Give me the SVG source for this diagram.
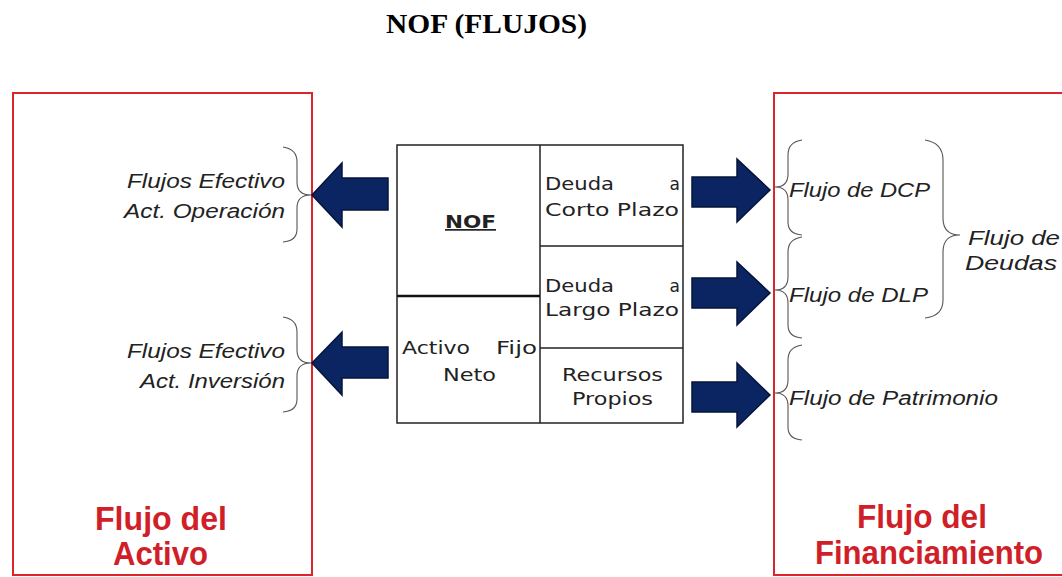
<svg xmlns="http://www.w3.org/2000/svg" width="1062" height="577" viewBox="0 0 1062 577">
<style>
.title{font-family:"Liberation Serif","Times New Roman",serif;font-weight:bold;font-size:27px;fill:#000}
.red{font-family:"Liberation Sans",Arial,sans-serif;font-weight:bold;font-size:33px;fill:#d01f28}
.ital{font-family:"Liberation Sans",Arial,sans-serif;font-style:italic;font-size:20px;fill:#222}
.cell{font-family:"DejaVu Sans",Verdana,sans-serif;font-size:17px;fill:#222}
.box{fill:none;stroke:#d9262c;stroke-width:2}
.brace{fill:none;stroke:#555;stroke-width:1.1}
.arrow{fill:#0b2462;stroke:#06143a;stroke-width:1.5;stroke-linejoin:miter}
.tbl{fill:none;stroke:#222;stroke-width:1.5}
</style>
<rect width="1062" height="577" fill="#fff"/>
<text class="title" x="386" y="33" textLength="201" lengthAdjust="spacingAndGlyphs">NOF (FLUJOS)</text>

<g id="activo">
<rect class="box" x="13" y="93" width="299" height="482"/>
<text class="red" x="95" y="530" textLength="132" lengthAdjust="spacingAndGlyphs">Flujo del</text>
<text class="red" x="113" y="565" textLength="95" lengthAdjust="spacingAndGlyphs">Activo</text>
</g>

<g id="financiamiento">
<rect class="box" x="774" y="93" width="300" height="482"/>
<text class="red" x="857" y="528" textLength="130" lengthAdjust="spacingAndGlyphs">Flujo del</text>
<text class="red" x="815" y="564" textLength="228" lengthAdjust="spacingAndGlyphs">Financiamiento</text>
</g>

<g id="tabla">
<rect class="tbl" x="397" y="145" width="286" height="278"/>
<line class="tbl" x1="540" y1="145" x2="540" y2="423"/>
<line x1="397" y1="296" x2="540" y2="296" stroke="#111" stroke-width="2.5"/>
<line class="tbl" x1="540" y1="246" x2="683" y2="246" stroke="#444"/>
<line class="tbl" x1="540" y1="348" x2="683" y2="348" stroke="#444"/>
<text class="cell" x="445" y="228" font-weight="bold" text-decoration="underline" textLength="51" lengthAdjust="spacingAndGlyphs">NOF</text>
<text class="cell" x="402" y="354" textLength="68" lengthAdjust="spacingAndGlyphs">Activo</text>
<text class="cell" x="496" y="354" textLength="41" lengthAdjust="spacingAndGlyphs">Fijo</text>
<text class="cell" x="443" y="381" textLength="53" lengthAdjust="spacingAndGlyphs">Neto</text>
<text class="cell" x="545" y="190" textLength="69" lengthAdjust="spacingAndGlyphs">Deuda</text>
<text class="cell" x="680" y="190" text-anchor="end">a</text>
<text class="cell" x="545" y="216" textLength="134" lengthAdjust="spacingAndGlyphs">Corto Plazo</text>
<text class="cell" x="545" y="292" textLength="69" lengthAdjust="spacingAndGlyphs">Deuda</text>
<text class="cell" x="680" y="292" text-anchor="end">a</text>
<text class="cell" x="545" y="316" textLength="134" lengthAdjust="spacingAndGlyphs">Largo Plazo</text>
<text class="cell" x="562" y="381" textLength="101" lengthAdjust="spacingAndGlyphs">Recursos</text>
<text class="cell" x="572" y="405" textLength="81" lengthAdjust="spacingAndGlyphs">Propios</text>
</g>

<g id="etiquetas-activo">
<text class="ital" x="127" y="188" textLength="158" lengthAdjust="spacingAndGlyphs">Flujos Efectivo</text>
<text class="ital" x="124" y="218" textLength="161" lengthAdjust="spacingAndGlyphs">Act. Operación</text>
<text class="ital" x="127" y="358" textLength="158" lengthAdjust="spacingAndGlyphs">Flujos Efectivo</text>
<text class="ital" x="140" y="388" textLength="145" lengthAdjust="spacingAndGlyphs">Act. Inversión</text>
</g>

<g id="etiquetas-financiamiento">
<text class="ital" x="789" y="197" textLength="141" lengthAdjust="spacingAndGlyphs">Flujo de DCP</text>
<text class="ital" x="789" y="302" textLength="139" lengthAdjust="spacingAndGlyphs">Flujo de DLP</text>
<text class="ital" x="789" y="405" textLength="209" lengthAdjust="spacingAndGlyphs">Flujo de Patrimonio</text>
<text class="ital" x="968" y="245" textLength="92" lengthAdjust="spacingAndGlyphs">Flujo de</text>
<text class="ital" x="965" y="270" textLength="92" lengthAdjust="spacingAndGlyphs">Deudas</text>
</g>

<g id="llaves">
<path class="brace" d="M283,147 Q297,149 297,162 L297,182 Q297,195 311,195 Q297,195 297,208 L297,229 Q297,241 283,242"/>
<path class="brace" d="M283,317 Q297,319 297,332 L297,350 Q297,363 311,363 Q297,363 297,376 L297,399 Q297,411 283,412"/>
<path class="brace" d="M802,140 Q788,142 788,155 L788,174 Q788,187 775,187 Q788,187 788,200 L788,222 Q788,234 802,235"/>
<path class="brace" d="M802,237 Q788,239 788,252 L788,277 Q788,290 775,290 Q788,290 788,303 L788,325 Q788,337 802,338"/>
<path class="brace" d="M802,345 Q788,347 788,360 L788,380 Q788,393 775,393 Q788,393 788,406 L788,427 Q788,439 802,440"/>
<path class="brace" d="M925,140 Q943,143 943,160 L943,218 Q943,235 960,235 Q943,235 943,252 L943,300 Q943,316 925,318"/>
</g>

<g id="conectores">
<polygon class="arrow" points="312,195 342,163 342,178 388,178 388,210 342,210 342,227"/>
<polygon class="arrow" points="312,363 342,332 342,347 388,347 388,378 342,378 342,395"/>
<polygon class="arrow" points="692,177 737,177 737,159 770,190 737,222 737,207 692,207"/>
<polygon class="arrow" points="692,278 737,278 737,262 770,293 737,325 737,308 692,308"/>
<polygon class="arrow" points="692,382 737,382 737,363 770,395 737,427 737,412 692,412"/>
</g>
</svg>
